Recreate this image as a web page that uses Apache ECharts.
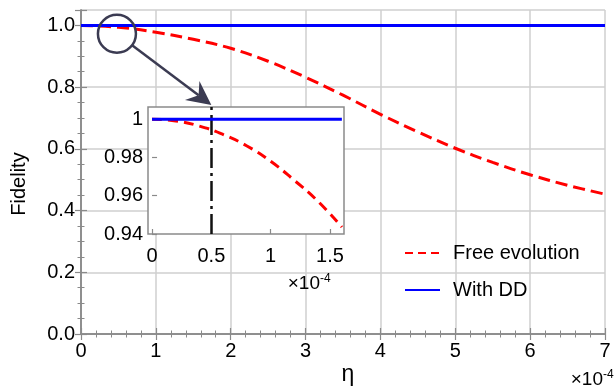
<!DOCTYPE html>
<html><head><meta charset="utf-8">
<script src="https://cdn.jsdelivr.net/npm/echarts@6/dist/echarts.min.js"></script>
<style>html,body{margin:0;padding:0;background:#fff}#c{width:616px;height:388px}</style>
</head><body><div id="c"></div>
<script>
// ---- data (η in units of 1e-4) ----
const mainEta   = [0, 0.5, 1, 1.5, 2, 2.5, 3, 3.5, 4, 4.5, 5, 5.5, 6, 6.5, 7];
const freeMain  = [1.0, 0.994, 0.978, 0.955, 0.926, 0.884, 0.832, 0.774, 0.712, 0.655, 0.602, 0.556, 0.516, 0.482, 0.453];
const ddMain    = [1, 1, 1, 1, 1, 1, 1, 1, 1, 1, 1, 1, 1, 1, 1];
const insetEta  = [0, 0.2, 0.4, 0.6, 0.8, 1.0, 1.2, 1.4, 1.6];
const freeInset = [1.0, 0.9991, 0.9964, 0.992, 0.986, 0.978, 0.968, 0.957, 0.9436];
const ddInset   = [1, 1, 1, 1, 1, 1, 1, 1, 1];
const markEta   = 0.5;
const xTicksMain = [0, 1, 2, 3, 4, 5, 6, 7];
const yTicksMain = [0, 0.2, 0.4, 0.6, 0.8, 1.0];
const xTicksInset = [0, 0.5, 1, 1.5];
const yTicksInset = [0.94, 0.96, 0.98, 1];
const seriesNames = ['Free evolution', 'With DD'];

const FONT = "'Liberation Sans', Arial, sans-serif";
const zip = (a, b) => a.map((v, i) => [v, b[i]]);
const gray = '#8a8a8a';

const chart = echarts.init(document.getElementById('c'), null, {renderer: 'canvas'});
const baseAxis = {
  axisLine: {show: true, lineStyle: {color: gray, width: 1.5}},
  axisTick: {show: true, inside: true, length: 6, lineStyle: {color: gray, width: 1.2}},
  minorTick: {show: true, length: 3.5, lineStyle: {color: gray, width: 1}},
  splitLine: {show: false},
};
const option = {
  animation: false,
  backgroundColor: '#fff',
  grid: [
    {left: 81, right: 11, top: 10, bottom: 54, z: 0},
    {left: 148, top: 107, width: 196, height: 127, show: true, backgroundColor: '#fff',
     borderColor: gray, borderWidth: 1.5, z: 5}
  ],
  xAxis: [
    Object.assign({}, baseAxis, {type: 'value', gridIndex: 0, min: 0, max: 7, interval: 1, position: 'bottom',
      minorTick: {show: true, splitNumber: 5, length: 3.5, lineStyle: {color: gray, width: 1}},
      splitLine: {show: true, lineStyle: {color: '#cfcfcf', width: 1.5}},
      axisLabel: {show: true, fontFamily: FONT, fontSize: 20, color: '#000', margin: 7,
        customValues: xTicksMain, formatter: v => String(v)}}),
    Object.assign({}, baseAxis, {type: 'value', gridIndex: 0, min: 0, max: 7, interval: 1, position: 'top',
      minorTick: {show: true, splitNumber: 5, length: 3.5, lineStyle: {color: gray, width: 1}},
      axisLabel: {show: false}}),
    {type: 'value', gridIndex: 1, min: -0.034, max: 1.618, z: 6,
      axisLine: {show: false}, splitLine: {show: false},
      axisTick: {show: true, inside: true, length: 5, customValues: xTicksInset, lineStyle: {color: gray, width: 1.2}},
      axisLabel: {show: true, fontFamily: FONT, fontSize: 20, color: '#000', margin: 12,
        customValues: xTicksInset, formatter: v => String(v)}}
  ],
  yAxis: [
    Object.assign({}, baseAxis, {type: 'value', gridIndex: 0, min: 0, max: 1.05, interval: 0.2, position: 'left',
      minorTick: {show: true, splitNumber: 4, length: 3.5, lineStyle: {color: gray, width: 1}},
      splitLine: {show: true, lineStyle: {color: '#cfcfcf', width: 1.5}},
      axisLabel: {show: true, fontFamily: FONT, fontSize: 20, color: '#000', margin: 6,
        customValues: yTicksMain, formatter: v => v.toFixed(1)}}),
    Object.assign({}, baseAxis, {type: 'value', gridIndex: 0, min: 0, max: 1.05, interval: 0.2, position: 'right',
      minorTick: {show: true, splitNumber: 4, length: 3.5, lineStyle: {color: gray, width: 1}},
      axisLabel: {show: false}}),
    {type: 'value', gridIndex: 1, min: 0.94, max: 1.0064, z: 6,
      axisLine: {show: false}, splitLine: {show: false},
      axisTick: {show: true, inside: true, length: 5, customValues: yTicksInset, lineStyle: {color: gray, width: 1.2}},
      axisLabel: {show: true, fontFamily: FONT, fontSize: 20, color: '#000', margin: 5,
        customValues: yTicksInset, formatter: v => (v === 1 ? '1' : String(+v.toFixed(2)))}}
  ],
  legend: {
    data: [{name: seriesNames[0], lineStyle: {type: [8, 5]}}, {name: seriesNames[1]}],
    orient: 'vertical', left: 404, top: 243, itemGap: 17, padding: 0,
    itemWidth: 35, itemHeight: 14, itemStyle: {opacity: 0},
    textStyle: {fontFamily: FONT, fontSize: 20, color: '#000', lineHeight: 20, padding: [0, 0, 0, 8]}
  },
  series: [
    {name: seriesNames[0], type: 'line', xAxisIndex: 0, yAxisIndex: 0, data: zip(mainEta, freeMain),
      smooth: 0.35, symbol: 'none', z: 2, lineStyle: {color: '#ff0000', width: 3, type: [12, 6]}, itemStyle: {color: '#ff0000'}},
    {name: seriesNames[1], type: 'line', xAxisIndex: 0, yAxisIndex: 0, data: zip(mainEta, ddMain),
      symbol: 'none', z: 3, lineStyle: {color: '#0000ff', width: 3, type: 'solid'}, itemStyle: {color: '#0000ff'}},
    {name: 'inset-free', type: 'line', xAxisIndex: 2, yAxisIndex: 2, data: zip(insetEta, freeInset),
      smooth: true, symbol: 'none', z: 7, lineStyle: {color: '#ff0000', width: 3, type: [10, 6]},
      markLine: {silent: true, symbol: 'none', label: {show: false}, z: 8,
        lineStyle: {color: '#111', width: 2.5, type: [20, 5, 3, 5]}, data: [{xAxis: markEta}]}},
    {name: 'inset-dd', type: 'line', xAxisIndex: 2, yAxisIndex: 2, data: zip(insetEta, ddInset),
      symbol: 'none', z: 8, lineStyle: {color: '#0000ff', width: 3}}
  ]
};
chart.setOption(option);

// annotations placed via the chart's own coordinate conversion
const cPix = chart.convertToPixel({xAxisIndex: 0, yAxisIndex: 0}, [0.48, 0.973]);
const tip = chart.convertToPixel({xAxisIndex: 2, yAxisIndex: 2}, [markEta, 1.0064]);
tip[1] -= 2;
const r = 19;
let dx = tip[0] - cPix[0], dy = tip[1] - cPix[1];
const L = Math.hypot(dx, dy); dx /= L; dy /= L;
const start = [cPix[0] + dx * r, cPix[1] + dy * r];
const nx = -dy, ny = dx;
const headLen = 24, headW = 12, notch = 16;
const base = [tip[0] - dx * notch, tip[1] - dy * notch];
const arrowColor = '#3b3b52';
const g = chart.getModel().getComponent('grid', 0).coordinateSystem.getRect();

chart.setOption({graphic: [
  {type: 'circle', z: 100, shape: {cx: cPix[0], cy: cPix[1], r: r},
    style: {fill: 'none', stroke: arrowColor, lineWidth: 2.5}},
  {type: 'line', z: 100, shape: {x1: start[0], y1: start[1], x2: base[0], y2: base[1]},
    style: {stroke: arrowColor, lineWidth: 2.5}},
  {type: 'polygon', z: 101, shape: {points: [
      tip,
      [tip[0] - dx * headLen + nx * headW, tip[1] - dy * headLen + ny * headW],
      base,
      [tip[0] - dx * headLen - nx * headW, tip[1] - dy * headLen - ny * headW]]},
    style: {fill: arrowColor}},
  {type: 'text', z: 100, x: g.x + g.width / 2 + 5, y: 375,
    style: {text: 'η', fontFamily: FONT, fontSize: 23, fill: '#000', align: 'center', verticalAlign: 'middle'}},
  {type: 'text', z: 100, x: 19, y: g.y + g.height / 2 + 12, rotation: Math.PI / 2,
    style: {text: 'Fidelity', fontFamily: FONT, fontSize: 20, fill: '#000', align: 'center', verticalAlign: 'middle'}},
  {type: 'text', z: 100, x: 603, y: 380,
    style: {text: '×10', fontFamily: FONT, fontSize: 19, fill: '#000', align: 'right', verticalAlign: 'middle'}},
  {type: 'text', z: 100, x: 603, y: 375,
    style: {text: '-4', fontFamily: FONT, fontSize: 12, fill: '#000', align: 'left', verticalAlign: 'middle'}},
  {type: 'text', z: 100, x: 320, y: 284,
    style: {text: '×10', fontFamily: FONT, fontSize: 19, fill: '#000', align: 'right', verticalAlign: 'middle'}},
  {type: 'text', z: 100, x: 320, y: 279,
    style: {text: '-4', fontFamily: FONT, fontSize: 12, fill: '#000', align: 'left', verticalAlign: 'middle'}}
]});
</script></body></html>
